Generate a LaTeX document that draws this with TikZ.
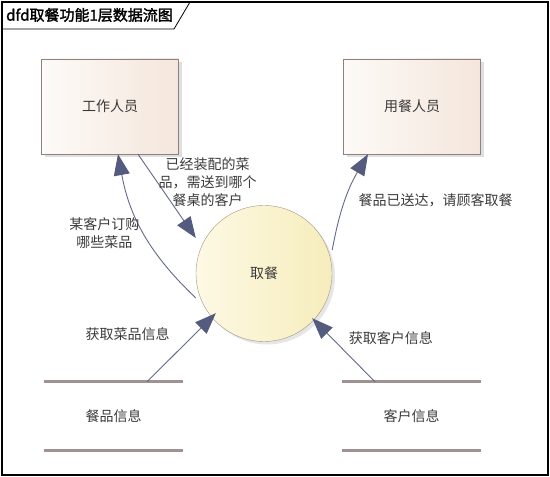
\documentclass[tikz,border=0pt]{standalone}
\usepackage{fontspec}
\setmainfont{Noto Sans CJK SC}[AutoFakeBold=1.8]
\usetikzlibrary{positioning,arrows.meta,shadows}

\definecolor{boxleft}{HTML}{FDFAF7}
\definecolor{boxright}{HTML}{F4E6DC}
\definecolor{boxline}{HTML}{8E8280}
\definecolor{circleft}{HTML}{FDF9E4}
\definecolor{circright}{HTML}{F6EDBC}
\definecolor{circline}{HTML}{A29483}
\definecolor{flowline}{HTML}{62688A}
\definecolor{tipfill}{HTML}{545B7E}
\definecolor{storecol}{HTML}{A09292}
\definecolor{textgray}{HTML}{3A3A3A}

\tikzset{
  entity/.style={draw=boxline, left color=boxleft, right color=boxright,
    minimum width=137pt, minimum height=95pt, text=textgray,
    drop shadow={shadow xshift=3pt, shadow yshift=-3pt, opacity=.25, fill=gray}},
  process/.style={circle, draw=circline, left color=circleft, right color=circright,
    minimum size=136pt, inner sep=0pt, text=textgray,
    drop shadow={shadow xshift=3pt, shadow yshift=-3pt, opacity=.2, fill=gray}},
  store/.style={minimum width=139pt, minimum height=68pt, text=textgray},
  storeline/.style={draw=storecol, line width=3pt},
  flow/.style={draw=flowline, line width=.9pt,
    -{Triangle[length=21pt, width=16pt, color=tipfill]}},
  lbl/.style={align=center, inner sep=1pt, text=textgray}
}

\begin{document}
\begin{tikzpicture}[x=1pt, y=1pt, font=\fontsize{14}{18}\selectfont]
            \useasboundingbox (0,0) rectangle (550,477);
            \draw[line width=1.5pt] (2,2) rectangle (548,475);
            \draw[line width=.8pt] (2,448) -- (174,448) -- (190,475);
            \node[anchor=west, inner sep=0pt, font=\fontsize{15}{16}\selectfont\bfseries] (title) at (6,462) {dfd取餐功能1层数据流图};

            \node[entity] (staff) at (110,370.5) {工作人员};
            \node[entity] (diner) at (412,370.5) {用餐人员};
            \node[process] (fetch) at (264,203.5) {取餐};
            \node[store] (dishes) at (113.5,61) {餐品信息};
            \node[store] (customers) at (411.5,61) {客户信息};

            \draw[storeline] (dishes.north west) -- (dishes.north east);
            \draw[storeline] (dishes.south west) -- (dishes.south east);
            \draw[storeline] (customers.north west) -- (customers.north east);
            \draw[storeline] (customers.south west) -- (customers.south east);

            \draw[flow] ([xshift=28pt]staff.south) to node[lbl, pos=.33, anchor=west] {已经装配的菜\\品，需送到哪个\\餐桌的客户} ([yshift=35.5pt]fetch.west);
            \draw[flow] ([yshift=-24.5pt]fetch.west) to[bend left=18] node[lbl, pos=.5, anchor=east, xshift=-3pt] {某客户订购\\哪些菜品} ([xshift=8pt]staff.south);
            \draw[flow] ([yshift=23.5pt]fetch.east) to[bend left=10] node[lbl, pos=.5, anchor=west, xshift=12pt] {餐品已送达，请顾客取餐} ([xshift=-44pt]diner.south);
            \draw[flow] ([xshift=33.5pt]dishes.north) to node[lbl, pos=.7, anchor=east, xshift=-24pt] {获取菜品信息} ([yshift=8.5pt]fetch.south west);
            \draw[flow] ([xshift=-36.5pt]customers.north) to node[lbl, pos=.68, anchor=west, xshift=15pt] {获取客户信息} ([yshift=3.5pt]fetch.south east);

        \end{tikzpicture}
\end{document}
